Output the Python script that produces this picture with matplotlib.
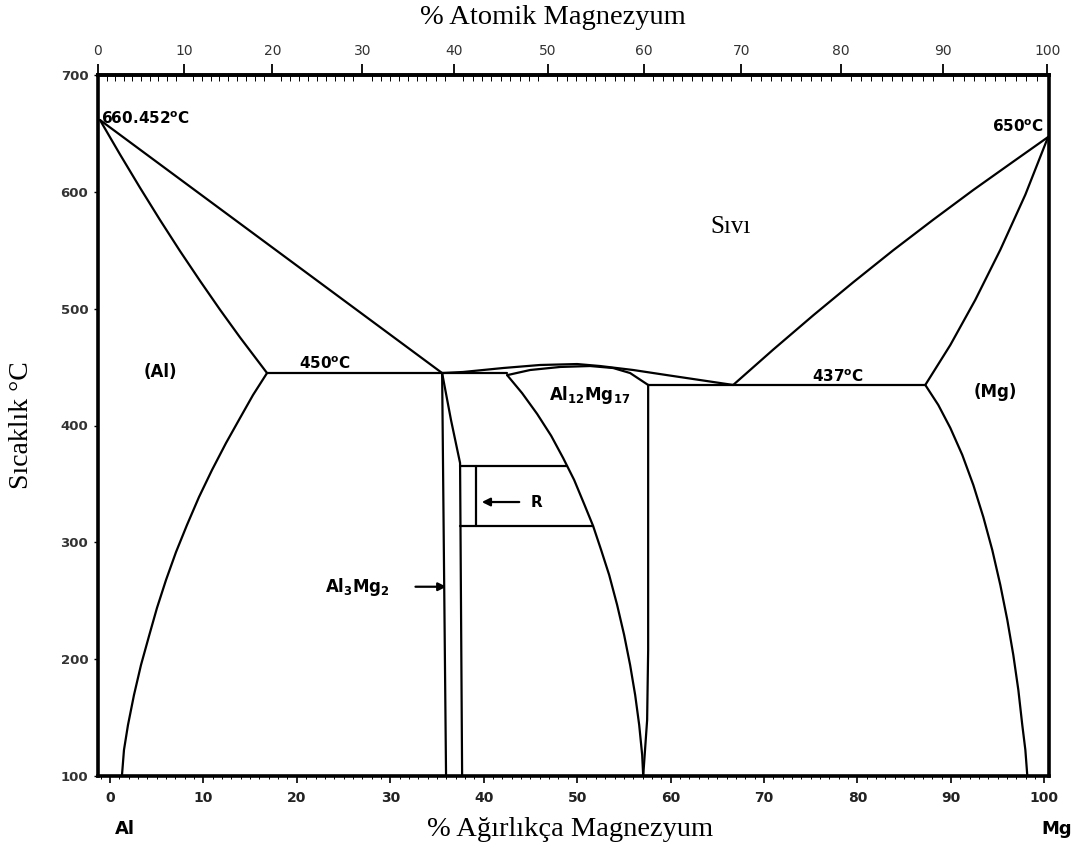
import numpy as np
import matplotlib
matplotlib.use('Agg')
import matplotlib.pyplot as plt
from matplotlib.ticker import MultipleLocator, FixedLocator

plt.rcParams['mathtext.fontset'] = 'dejavusans'

# ---------------- data (wt% Mg, temperature °C) ----------------
al_liquidus_wt = [-1.07, 35.55]
al_liquidus_T = [661.5, 444.9]

al_solidus_wt = [-1.07, 1.07, 3.21, 5.35, 7.49, 9.64, 11.78, 13.92, 16.81]
al_solidus_T = [661.5, 632.1, 603.6, 576.0, 549.4, 523.8, 499.1, 475.4, 444.9]

al_solvus_wt = [16.81, 15.31, 13.92, 12.42, 10.92, 9.53, 8.24, 7.07, 6.00, 5.03,
                4.18, 3.32, 2.57, 1.93, 1.50, 1.28]
al_solvus_T = [444.9, 426.1, 406.4, 385.0, 361.9, 338.8, 314.8, 291.7, 267.8, 243.8,
               219.8, 195.0, 169.3, 143.7, 122.3, 100.0]

eut1_wt = [16.81, 42.51]
eut1_T = [444.9, 444.9]

al3mg2_left_wt = [35.55, 35.97]
al3mg2_left_T = [444.9, 100.0]
al3mg2_right_wt = [35.55, 36.5, 37.47, 37.58, 37.69]
al3mg2_right_T = [444.9, 404.7, 367.9, 233.5, 100.0]

r_top_T = 365.3
r_bot_T = 314.0
r_left_wt = 37.47
r_inner_wt = 39.19
r_top_right_wt = 48.95
r_bot_right_wt = 51.71

al12mg17_left_wt = [42.51, 44.11, 45.72, 47.22, 48.50, 49.68, 50.75, 51.71, 52.57, 53.43,
                    54.28, 55.03, 55.67, 56.21, 56.64, 56.96, 57.07]
al12mg17_left_T = [443.1, 427.7, 409.9, 391.2, 372.2, 353.4, 332.8, 314.0, 293.4, 272.0,
                   246.4, 220.7, 195.0, 169.3, 143.7, 118.0, 100.0]
al12mg17_right_wt = [57.60, 57.60, 57.49, 57.07]
al12mg17_right_T = [434.7, 207.8, 147.9, 100.0]
al12mg17_top_wt = [42.51, 44.97, 48.18, 51.39, 53.85, 55.67, 57.60]
al12mg17_top_T = [443.1, 447.5, 450.1, 450.9, 449.2, 444.9, 434.7]

mid_liquidus_wt = [35.55, 37.79, 42.08, 46.04, 50.0, 52.46, 56.0, 59.64, 63.17, 66.70]
mid_liquidus_T = [444.9, 445.8, 449.2, 451.8, 452.6, 450.9, 447.5, 443.1, 438.9, 434.7]

eut2_wt = [57.60, 87.26]
eut2_T = [434.7, 434.7]

mg_liquidus_wt = [66.70, 70.99, 75.27, 79.55, 83.83, 88.12, 92.40, 96.68, 100.4]
mg_liquidus_T = [434.7, 465.0, 494.3, 522.6, 550.0, 576.2, 601.6, 625.9, 646.9]

mg_solidus_wt = [87.26, 89.94, 92.61, 95.29, 97.97, 100.4]
mg_solidus_T = [434.7, 468.9, 507.5, 550.4, 597.6, 646.9]

mg_solvus_wt = [87.26, 88.65, 89.94, 91.22, 92.40, 93.47, 94.43, 95.29, 96.04, 96.68,
                97.22, 97.64, 97.97, 98.18]
mg_solvus_T = [434.7, 417.6, 397.9, 374.8, 349.1, 321.7, 293.4, 263.5, 233.5, 203.6,
               173.6, 143.7, 122.3, 100.0]

x_ticks = [0, 10, 20, 30, 40, 50, 60, 70, 80, 90, 100]
y_ticks = [100, 200, 300, 400, 500, 600, 700]
top_ticks = [0, 10, 20, 30, 40, 50, 60, 70, 80, 90, 100]

M_AL = 26.98
M_MG = 24.305

# ---------------- figure ----------------
fig = plt.figure(figsize=(10.82, 8.5), dpi=100)
fig.patch.set_facecolor('white')
ax = fig.add_axes([98 / 1082, 1 - 776 / 850, (1049 - 98) / 1082, (776 - 75) / 850])
ax.set_xlim(-1.28, 100.5)
ax.set_ylim(100, 700)

lw = 1.6
kw = dict(color='black', lw=lw, solid_capstyle='round', solid_joinstyle='round', clip_on=False)
for xs, ys in [
    (al_liquidus_wt, al_liquidus_T), (al_solidus_wt, al_solidus_T), (al_solvus_wt, al_solvus_T),
    (eut1_wt, eut1_T), (al3mg2_left_wt, al3mg2_left_T), (al3mg2_right_wt, al3mg2_right_T),
    (al12mg17_left_wt, al12mg17_left_T), (al12mg17_right_wt, al12mg17_right_T),
    (al12mg17_top_wt, al12mg17_top_T), (mid_liquidus_wt, mid_liquidus_T),
    (eut2_wt, eut2_T), (mg_liquidus_wt, mg_liquidus_T), (mg_solidus_wt, mg_solidus_T),
    (mg_solvus_wt, mg_solvus_T)]:
    ax.plot(xs, ys, **kw)

# R box
ax.plot([r_left_wt, r_top_right_wt], [r_top_T, r_top_T], **kw)
ax.plot([r_left_wt, r_bot_right_wt], [r_bot_T, r_bot_T], **kw)
ax.plot([r_inner_wt, r_inner_wt], [r_top_T, r_bot_T], **kw)

# spines & ticks
for s in ax.spines.values():
    s.set_linewidth(2.6)
ax.set_xticks(x_ticks)
ax.xaxis.set_minor_locator(MultipleLocator(1))
ax.set_yticks(y_ticks)
lab_font = ['Liberation Sans Narrow', 'DejaVu Sans']
ax.tick_params(axis='x', which='major', direction='out', length=5, width=1.2, pad=6,
               labelsize=10, labelcolor='#222222')
ax.tick_params(axis='x', which='minor', direction='out', length=2.5, width=0.7)
ax.tick_params(axis='y', which='major', direction='out', length=3, width=1.0, pad=4,
               labelsize=9.5, labelcolor='#333333')
for t in ax.get_xticklabels() + ax.get_yticklabels():
    t.set_fontfamily(lab_font)
    t.set_fontweight('bold')


def at2wt(at):
    at = np.asarray(at, dtype=float)
    conv = 100 * at * M_MG / (at * M_MG + (100 - at) * M_AL)
    return -1.28 + conv * 1.016


def wt2at(wt):
    wt = np.asarray(wt, dtype=float)
    c = (wt + 1.28) / 1.016
    a = c / M_MG
    b = (100 - c) / M_AL
    with np.errstate(divide='ignore', invalid='ignore'):
        return 100 * a / (a + b)


sec = ax.secondary_xaxis('top', functions=(wt2at, at2wt))
sec.set_xticks(top_ticks)
sec.xaxis.set_minor_locator(FixedLocator(list(range(0, 101, 1))))
sec.tick_params(axis='x', which='major', direction='out', length=8, width=1.3, pad=4,
                labelsize=10, labelcolor='#333333')
sec.tick_params(axis='x', which='minor', direction='in', length=4, width=0.7)
sec.spines['top'].set_linewidth(2.6)
for t in sec.get_xticklabels():
    t.set_fontfamily(lab_font)

# ---------------- labels ----------------
serif = ['Liberation Serif', 'DejaVu Serif']
fig.text(553 / 1082, 1 - 18 / 850, '% Atomik Magnezyum', ha='center', va='center',
         fontsize=20.5, family=serif)
fig.text(570 / 1082, 1 - 829 / 850, '% Ağırlıkça Magnezyum', ha='center', va='center',
         fontsize=20.5, family=serif)
fig.text(22 / 1082, 1 - 425 / 850, 'Sıcaklık °C', ha='center', va='center', rotation=90,
         fontsize=20, family=serif)
fig.text(125 / 1082, 1 - 829 / 850, 'Al', ha='center', va='center', fontsize=13,
         fontweight='bold', family=lab_font)
fig.text(1057 / 1082, 1 - 829 / 850, 'Mg', ha='center', va='center', fontsize=13,
         fontweight='bold', family=lab_font)

bold = dict(fontweight='bold', family=lab_font, color='black')
ax.text(-1.0, 663, r'660.452$^{\mathbf{o}}$C', ha='left', va='center', fontsize=11, **bold)
ax.text(100.0, 656, r'650$^{\mathbf{o}}$C', ha='right', va='center', fontsize=11, **bold)
ax.text(23.0, 453, r'450$^{\mathbf{o}}$C', ha='center', va='center', fontsize=11, **bold)
ax.text(77.9, 442, r'437$^{\mathbf{o}}$C', ha='center', va='center', fontsize=11, **bold)
ax.text(5.4, 446, '(Al)', ha='center', va='center', fontsize=12, **bold)
ax.text(94.8, 429, '(Mg)', ha='center', va='center', fontsize=12, **bold)
ax.text(51.3, 426, r'Al$_{\mathbf{12}}$Mg$_{\mathbf{17}}$', ha='center', va='center',
        fontsize=12, **bold)
ax.text(26.5, 262, r'Al$_{\mathbf{3}}$Mg$_{\mathbf{2}}$', ha='center', va='center',
        fontsize=12, **bold)
ax.text(45.7, 334.5, 'R', ha='center', va='center', fontsize=11, **bold)
ax.text(66.4, 570, 'Sıvı', ha='center', va='center', fontsize=18, family=serif)

# arrows
ax.annotate('', xy=(36.3, 262), xytext=(32.4, 262),
            arrowprops=dict(arrowstyle='-|>', color='black', lw=1.6, mutation_scale=12))
ax.annotate('', xy=(39.5, 334.5), xytext=(44.1, 334.5),
            arrowprops=dict(arrowstyle='-|>', color='black', lw=1.6, mutation_scale=12))

fig.savefig('out.png', dpi=100, facecolor='white')
